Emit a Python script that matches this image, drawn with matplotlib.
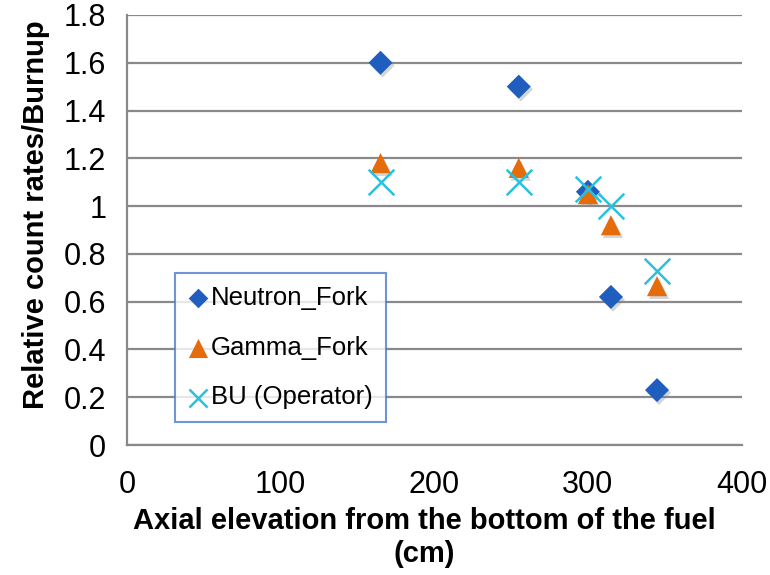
import matplotlib
matplotlib.use("Agg")
import matplotlib.pyplot as plt
import matplotlib.patheffects as pe

plt.rcParams['font.family'] = ['Liberation Sans', 'DejaVu Sans']

elevation = [165, 255, 300, 315, 345]
neutron_fork = [1.60, 1.50, 1.06, 0.62, 0.23]
gamma_fork = [1.18, 1.16, 1.05, 0.92, 0.665]
bu_operator = [1.10, 1.10, 1.07, 1.00, 0.73]

x_ticks = [0, 100, 200, 300, 400]
y_ticks = [0, 0.2, 0.4, 0.6, 0.8, 1.0, 1.2, 1.4, 1.6, 1.8]
y_tick_labels = ['0', '0.2', '0.4', '0.6', '0.8', '1', '1.2', '1.4', '1.6', '1.8']

fig = plt.figure(figsize=(7.7, 5.75), dpi=100)
ax = fig.add_axes([0.165, 0.226, 0.798, 0.748])

shadow = [pe.SimplePatchShadow(offset=(1.5, -2), shadow_rgbFace='#888888', alpha=0.35), pe.Normal()]

ax.scatter(elevation, neutron_fork, marker='D', s=150, color='#1F5DBE', label='Neutron_Fork',
           zorder=3, path_effects=shadow, linewidths=0)
ax.scatter(elevation, gamma_fork, marker='^', s=210, color='#E46C0A', label='Gamma_Fork',
           zorder=4, path_effects=shadow, linewidths=0)
ax.scatter(elevation, bu_operator, marker='x', s=340, color='#2DBFDC', label='BU (Operator)',
           zorder=5, linewidths=1.8)

ax.set_xlim(0, 400)
ax.set_ylim(0, 1.8)
ax.set_xticks(x_ticks)
ax.set_yticks(y_ticks)
ax.set_yticklabels(y_tick_labels)
ax.tick_params(axis='both', labelsize=22, length=0)
ax.tick_params(axis='y', pad=15)
ax.tick_params(axis='x', pad=18)
ax.yaxis.grid(True, color='#898989', linewidth=1.6)
ax.set_axisbelow(True)
for s in ['top', 'right']:
    ax.spines[s].set_visible(False)
for s in ['left', 'bottom']:
    ax.spines[s].set_color('#898989')
    ax.spines[s].set_linewidth(1.6)

ax.set_xlabel('Axial elevation from the bottom of the fuel\n(cm)', fontsize=21, fontweight='bold',
              labelpad=5, linespacing=1.25)
ax.xaxis.label.set_x(0.484)
ax.set_ylabel('Relative count rates/Burnup', fontsize=21, fontweight='bold', labelpad=10)
ax.yaxis.label.set_y(0.535)

leg = ax.legend(loc='lower left', bbox_to_anchor=(0.078, 0.053), fontsize=18.5, frameon=True,
                fancybox=False, edgecolor='#4A7CC7', handletextpad=0.1, labelspacing=1.0,
                borderpad=0.5, handlelength=0.8, borderaxespad=0)
leg.get_frame().set_linewidth(1.5)
for h, sz in zip(leg.legend_handles, [100, 190, 170]):
    h.set_sizes([sz])
    h.set_path_effects([])

fig.savefig('out.png', dpi=100)
